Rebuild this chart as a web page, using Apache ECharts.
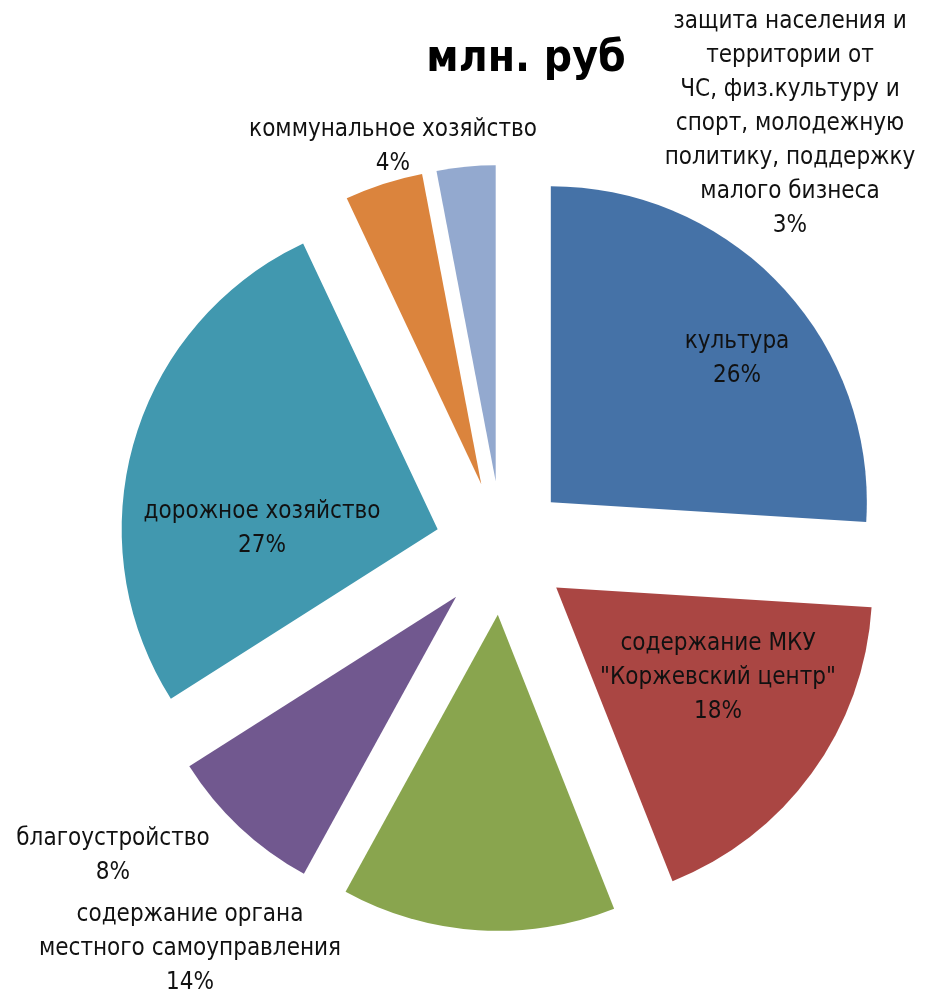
<!DOCTYPE html>
<html>
<head>
<meta charset="utf-8">
<script src="https://cdn.jsdelivr.net/npm/echarts@6/dist/echarts.min.js"></script>
<style>
html,body{margin:0;padding:0;background:#fff;}
#chart{width:926px;height:996px;}
</style>
</head>
<body>
<div id="chart"></div>
<script>
// Data
const titleText = 'млн. руб';
const categories = [
  'культура',
  'содержание МКУ\n"Коржевский центр"',
  'содержание органа\nместного самоуправления',
  'благоустройство',
  'дорожное хозяйство',
  'коммунальное хозяйство',
  'защита населения и\nтерритории от\nЧС, физ.культуру и\nспорт, молодежную\nполитику, поддержку\nмалого бизнеса'
];
const values = [26, 18, 14, 8, 27, 4, 3];

// Styles / layout (not data)
const colors = ['#4572A7', '#AA4643', '#89A54E', '#71588F', '#4198AF', '#DB843D', '#93A9CF'];
const labelCenters = [[737, 359], [718, 678], [190, 949], [113, 856], [262, 529], [393, 147], [790, 124]];
const FONT = '"DejaVu Sans Condensed", "DejaVu Sans", sans-serif';

const total = values.reduce((a, b) => a + b, 0);
const labelGraphics = categories.map((n, i) => ({
  type: 'text',
  x: labelCenters[i][0],
  y: labelCenters[i][1],
  silent: true,
  z: 100,
  style: {
    text: n + '\n' + Math.round(values[i] / total * 100) + '%',
    fontFamily: FONT,
    fontSize: 24,
    lineHeight: 34,
    fill: '#111',
    align: 'center',
    verticalAlign: 'middle'
  }
}));

const chart = echarts.init(document.getElementById('chart'), null, {renderer: 'canvas'});
chart.setOption({
  backgroundColor: '#fff',
  animation: false,
  title: {
    text: titleText,
    left: 521,
    top: 33,
    textAlign: 'center',
    textStyle: {fontFamily: FONT, fontWeight: 'bold', fontSize: 44, color: '#000'}
  },
  graphic: labelGraphics,
  series: [{
    type: 'pie',
    center: [502, 548],
    radius: [0, 316],
    startAngle: 90,
    clockwise: true,
    selectedMode: 'multiple',
    selectedOffset: 67,
    avoidLabelOverlap: false,
    emphasis: {disabled: true},
    itemStyle: {borderWidth: 0},
    label: {show: false},
    labelLine: {show: false},
    data: categories.map((n, i) => ({
      name: n,
      value: values[i],
      selected: true,
      itemStyle: {color: colors[i]}
    }))
  }]
});
</script>
</body>
</html>
